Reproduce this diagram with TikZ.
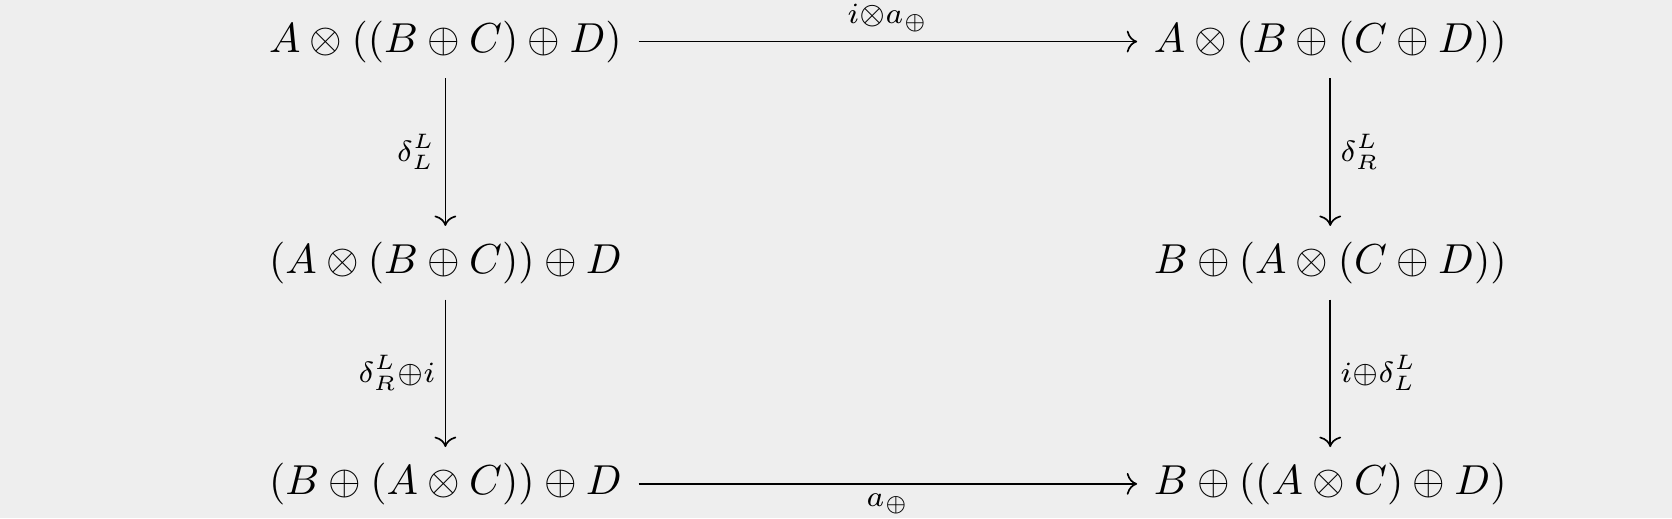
\documentclass[tikz,border=0pt]{standalone}
\usetikzlibrary{arrows.meta}
\definecolor{bg}{HTML}{EEEEEE}
\begin{document}
\begin{tikzpicture}[x=1.01pt,y=1.01pt,
  obj/.style={inner xsep=3.8pt, inner ysep=3.6pt, text height=7.5pt, text depth=2.5pt},
  arr/.style={-{Computer Modern Rightarrow}, line width=0.4pt},
  lab/.style={inner sep=2.2pt, font=\scriptsize}]
\fill[bg] (0,0) rectangle (395.3,-122.5);
\useasboundingbox (0,0) rectangle (395.3,-122.5);
\node[obj] (tl) at (105.3,-9.83) {$A\otimes((B\oplus C)\oplus D)$};
\node[obj] (tr) at (314.5,-9.83) {$A\otimes(B\oplus(C\oplus D))$};
\node[obj] (ml) at (105.3,-62.13) {$(A\otimes(B\oplus C))\oplus D$};
\node[obj] (mr) at (314.5,-62.13) {$B\oplus(A\otimes(C\oplus D))$};
\node[obj] (bl) at (105.3,-114.4) {$(B\oplus(A\otimes C))\oplus D$};
\node[obj] (br) at (314.5,-114.4) {$B\oplus((A\otimes C)\oplus D)$};
\draw[arr] (tl) -- node[lab, above] {$i{\otimes}a_{\oplus}$} (tr);
\draw[arr] (tl) -- node[lab, left] {$\delta^L_L$} (ml);
\draw[arr] (ml) -- node[lab, left] {$\delta^L_R{\oplus}i$} (bl);
\draw[arr] (tr) -- node[lab, right] {$\delta^L_R$} (mr);
\draw[arr] (mr) -- node[lab, right] {$i{\oplus}\delta^L_L$} (br);
\draw[arr] (bl) -- node[lab, below] {$a_{\oplus}$} (br);
\end{tikzpicture}
\end{document}
